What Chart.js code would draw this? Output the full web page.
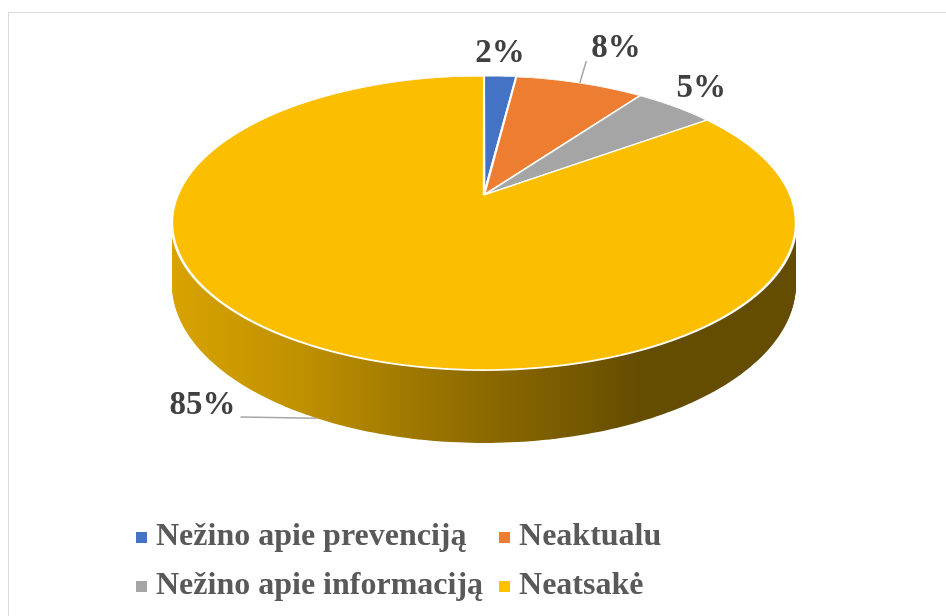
<!DOCTYPE html>
<html>
<head>
<meta charset="utf-8">
<script src="https://cdn.jsdelivr.net/npm/chart.js@4.4.1/dist/chart.umd.min.js"></script>
<style>
  html, body { margin: 0; padding: 0; background: #ffffff; overflow: hidden; }
  #c { display: block; }
</style>
</head>
<body>
<canvas id="c" width="946" height="616"></canvas>
<script>
// ---- data ----
const CATEGORIES = ['Nežino apie prevenciją', 'Neaktualu', 'Nežino apie informaciją', 'Neatsakė'];
const VALUES = [2, 8, 5, 85];
const COLORS = ['#4472C4', '#ED7D31', '#A5A5A5', '#FBBE00'];

// ---- style / view ----
const VIEW = { rx: 306.3, ry: 141.7, persp: 0.1905, depth: 59 };   // tilt + perspective of the 3D pie
const LABEL_DIST = [1.24, 1.39, 1.21, 1.36];      // label radial distance (x radius)
const LABEL_TURN = [-0.6, 1.1, -1.8, 4.8];        // label angular nudge (degrees) from slice middle
const LABEL_LEADER = [false, true, false, true];
const LABEL_FONT = 'bold 33px "Liberation Serif", "Times New Roman", serif';
const LEGEND_FONT = 'bold 32px "Liberation Serif", "Times New Roman", serif';
const SIDE_STOPS = [[0, 0.86], [0.27, 0.765], [0.53, 0.62], [0.83, 0.486], [1, 0.40]];

function rgb(hex) {
  const n = parseInt(hex.slice(1), 16);
  return [(n >> 16) & 255, (n >> 8) & 255, n & 255];
}

function geometry(chart) {
  const arcs = chart.getDatasetMeta(0).data;
  const ax = arcs[0].x, ay = arcs[0].y, r = arcs[0].outerRadius;
  const A = VIEW.rx, B = VIEW.ry, E = VIEW.persp, H = VIEW.depth;
  const proj = (u, v, h) => { const w = 1 - E * v; return [ax + A * u / w, ay + (B * v + (h || 0)) / w]; };
  return { arcs, ax, ay, r, A, B, E, H, proj };
}

const pie3d = {
  id: 'pie3d',
  beforeDraw(chart) {
    const ctx = chart.ctx;
    ctx.save();
    ctx.strokeStyle = '#d9d9d9';
    ctx.lineWidth = 1;
    ctx.strokeRect(8.5, 12.5, 2000, 2000);
    ctx.restore();
  },
  beforeDatasetsDraw(chart) {
    const ctx = chart.ctx;
    const g = geometry(chart);
    const { arcs, ax, ay, r, A, B, E, H, proj } = g;

    // --- side (extrusion) ---
    const grads = arcs.map((arc, i) => {
      const c = rgb(COLORS[i]);
      const gr = ctx.createLinearGradient(ax - A * 1.02, 0, ax + A * 0.51, 0);
      SIDE_STOPS.forEach(([t, f]) => {
        gr.addColorStop(t, `rgb(${Math.round(c[0] * f)},${Math.round(c[1] * f)},${Math.round(c[2] * f)})`);
      });
      return gr;
    });
    for (let h = H; h >= 0; h -= 1) {
      arcs.forEach((arc, i) => {
        const s = arc.startAngle, e = arc.endAngle;
        const n = Math.max(4, Math.ceil((e - s) / (2 * Math.PI) * 360));
        ctx.beginPath();
        let p = proj(0, 0, h);
        ctx.moveTo(p[0], p[1]);
        for (let k = 0; k <= n; k++) {
          const a = s + (e - s) * k / n;
          p = proj(Math.cos(a), Math.sin(a), h);
          ctx.lineTo(p[0], p[1]);
        }
        ctx.closePath();
        ctx.fillStyle = grads[i];
        ctx.fill();
      });
    }

    // --- top face: library arcs drawn through a strip-wise perspective transform ---
    const yTop = Math.floor(ay - B / (1 + E)) - 3;
    const yBot = Math.ceil(ay + B / (1 - E)) + 3;
    for (let y = yTop; y < yBot; y++) {
      const ym = y + 0.5;
      const vm = (ym - ay) / (B + E * (ym - ay));
      const wm = 1 - E * vm;
      const a = A / (wm * r);
      const d = B / (wm * wm * r);
      ctx.save();
      ctx.beginPath();
      ctx.rect(0, y, chart.width, 1);
      ctx.clip();
      ctx.setTransform(a, 0, 0, d, ax - a * ax, ym - d * (ay + vm * r));
      arcs.forEach(arc => arc.draw(ctx));
      ctx.restore();
    }
    return false;
  },
  afterDraw(chart) {
    const ctx = chart.ctx;
    const g = geometry(chart);
    const { arcs, proj, H } = g;
    const total = VALUES.reduce((s, v) => s + v, 0);

    // --- data labels ---
    ctx.save();
    ctx.font = LABEL_FONT;
    ctx.textAlign = 'center';
    ctx.textBaseline = 'middle';
    arcs.forEach((arc, i) => {
      const mid = (arc.startAngle + arc.endAngle) / 2;
      const la = mid + LABEL_TURN[i] * Math.PI / 180;
      const f = LABEL_DIST[i];
      const c = proj(Math.cos(la) * f, Math.sin(la) * f, 0);
      const txt = Math.round(VALUES[i] / total * 100) + '%';
      const tw = ctx.measureText(txt).width;
      const th = 24;
      if (LABEL_LEADER[i]) {
        const front = Math.sin(mid) > 0;
        const an = proj(Math.cos(mid), Math.sin(mid), front ? H : 0);
        const gap = 5;
        const bx = Math.max(c[0] - tw / 2 - gap, Math.min(an[0], c[0] + tw / 2 + gap));
        const by = Math.max(c[1] - th / 2, Math.min(an[1], c[1] + th / 2));
        ctx.beginPath();
        ctx.moveTo(bx, by);
        ctx.lineTo(an[0], an[1]);
        ctx.strokeStyle = '#a6a6a6';
        ctx.lineWidth = 1.5;
        ctx.stroke();
      }
      ctx.fillStyle = '#404040';
      ctx.fillText(txt, c[0], c[1]);
    });
    ctx.restore();

    // --- legend (2 columns) ---
    ctx.save();
    ctx.font = LEGEND_FONT;
    ctx.textBaseline = 'middle';
    ctx.textAlign = 'left';
    const x0 = 136, rowsY = [537, 586], box = 11, tgap = 20, colGap = 16;
    const col1W = Math.max(ctx.measureText(CATEGORIES[0]).width, ctx.measureText(CATEGORIES[2]).width);
    const colX = [x0, x0 + tgap + col1W + colGap];
    CATEGORIES.forEach((lab, i) => {
      const x = colX[i % 2], y = rowsY[Math.floor(i / 2)];
      ctx.fillStyle = COLORS[i] === '#FBBE00' ? '#FFC000' : COLORS[i];
      ctx.fillRect(x, Math.round(y - box / 2), box, box);
      ctx.fillStyle = '#595959';
      ctx.fillText(lab, x + tgap, y);
    });
    ctx.restore();
  }
};

new Chart(document.getElementById('c'), {
  type: 'pie',
  data: {
    labels: CATEGORIES,
    datasets: [{
      data: VALUES,
      backgroundColor: COLORS,
      borderColor: '#ffffff',
      borderWidth: 1.2
    }]
  },
  options: {
    responsive: false,
    animation: false,
    events: [],
    layout: { padding: { left: 334, right: 312, top: 45, bottom: 271 } },
    plugins: { legend: { display: false }, tooltip: { enabled: false } }
  },
  plugins: [pie3d]
});
</script>
</body>
</html>
